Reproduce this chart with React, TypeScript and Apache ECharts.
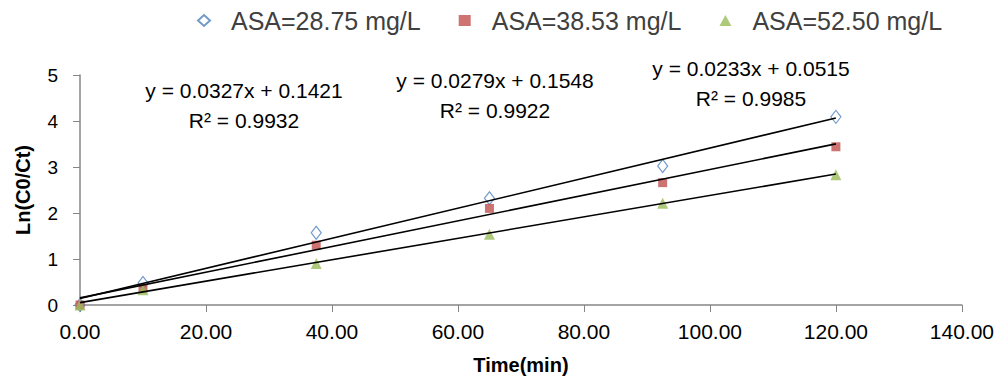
import React, { useEffect, useRef } from "react";
import * as echarts from "echarts";

const timeMin = [0, 10, 37.5, 65, 92.5, 120];
const seriesNames = ["ASA=28.75 mg/L", "ASA=38.53 mg/L", "ASA=52.50 mg/L"];
const asa1 = [0, 0.48, 1.57, 2.32, 3.02, 4.09];
const asa2 = [0, 0.36, 1.3, 2.1, 2.66, 3.44];
const asa3 = [0, 0.33, 0.9, 1.54, 2.21, 2.83];
const slopes = [0.0327, 0.0279, 0.0233];
const intercepts = [0.1421, 0.1548, 0.0515];
const eqLabels = ["y = 0.0327x + 0.1421", "y = 0.0279x + 0.1548", "y = 0.0233x + 0.0515"];
const r2Labels = ["R² = 0.9932", "R² = 0.9922", "R² = 0.9985"];
const colors = ["#4F81BD", "#C0504D", "#9BBB59"];

const FONT = "'Liberation Sans', Arial, sans-serif";

export default function App() {
  const ref = useRef<HTMLDivElement>(null);
  useEffect(() => {
    if (!ref.current) return;
    const chart = echarts.init(ref.current, undefined, { renderer: "svg" });
    const allData = [asa1, asa2, asa3];
    const scatter = allData.map((vals, i) => ({
      name: seriesNames[i],
      type: "scatter",
      symbol: i === 0 ? "diamond" : i === 1 ? "rect" : "triangle",
      symbolSize: i === 0 ? [10, 13] : i === 1 ? 9 : 11,
      itemStyle:
        i === 0
          ? { color: "#ffffff", borderColor: colors[0], borderWidth: 1.2 }
          : { color: colors[i] },
      data: timeMin.map((t, k) => [t, vals[k]]),
      z: 2,
    }));
    const trend = slopes.map((m, i) => ({
      name: "trend" + i,
      type: "line",
      symbol: "none",
      lineStyle: { color: "#000000", width: 1.6 },
      data: [
        [0, intercepts[i]],
        [120, m * 120 + intercepts[i]],
      ],
      z: 3,
      silent: true,
    }));
    const eqPos = [
      [244, 90],
      [495, 80],
      [751, 68],
    ];
    const graphics: any[] = [];
    eqPos.forEach((p, i) => {
      graphics.push({
        type: "text",
        x: p[0],
        y: p[1],
        style: { text: eqLabels[i], font: `21px ${FONT}`, fill: "#000", align: "center", verticalAlign: "middle" },
      });
      graphics.push({
        type: "text",
        x: p[0],
        y: p[1] + 30,
        style: { text: r2Labels[i], font: `21px ${FONT}`, fill: "#000", align: "center", verticalAlign: "middle" },
      });
    });
    chart.setOption({
      animation: false,
      backgroundColor: "#ffffff",
      textStyle: { fontFamily: FONT },
      grid: { left: 80, right: 35, top: 75, bottom: 78 },
      legend: {
        data: seriesNames,
        top: 3,
        left: 192,
        itemGap: 38,
        itemWidth: 12,
        itemHeight: 11,
        textStyle: { fontSize: 25, color: "#404040", fontFamily: FONT, padding: [0, 0, 0, 16] },
      },
      xAxis: {
        type: "value",
        min: 0,
        max: 140,
        interval: 20,
        name: "Time(min)",
        nameLocation: "middle",
        nameGap: 50,
        nameTextStyle: { fontSize: 20, fontWeight: "bold", color: "#000" },
        axisLine: { lineStyle: { color: "#868686", width: 1.5 } },
        axisTick: { show: true, length: 7, lineStyle: { color: "#868686" } },
        axisLabel: { fontSize: 21, color: "#000", margin: 16, formatter: (v: number) => v.toFixed(2) },
        splitLine: { show: false },
      },
      yAxis: {
        type: "value",
        min: 0,
        max: 5,
        interval: 1,
        name: "Ln(C0/Ct)",
        nameLocation: "middle",
        nameGap: 47,
        nameRotate: 90,
        nameTextStyle: { fontSize: 20, fontWeight: "bold", color: "#000" },
        axisLine: { show: true, lineStyle: { color: "#868686", width: 1.5 } },
        axisTick: { show: true, length: 7, lineStyle: { color: "#868686" } },
        axisLabel: { fontSize: 19, color: "#000", margin: 22 },
        splitLine: { show: false },
      },
      graphic: graphics,
      series: [...scatter, ...trend],
    });
    return () => chart.dispose();
  }, []);
  return (
    <div
      ref={ref}
      style={{ position: "absolute", left: 0, top: 0, width: 997, height: 383 }}
    />
  );
}
